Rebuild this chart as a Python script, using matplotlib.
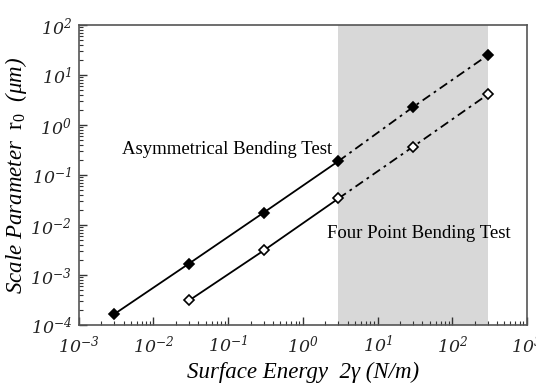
import numpy as np
import matplotlib
matplotlib.use("Agg")
import matplotlib.pyplot as plt
from matplotlib.ticker import LogLocator, NullFormatter, FuncFormatter

plt.rcParams['mathtext.fontset'] = 'custom'
plt.rcParams['mathtext.rm'] = 'DejaVu Serif:italic'
plt.rcParams['mathtext.it'] = 'DejaVu Serif:italic'
plt.rcParams['mathtext.cal'] = 'Liberation Serif'

# surface energy 2*gamma (N/m)
energy = [3e-3, 3e-2, 3e-1, 3, 30, 300]
# asymmetrical bending test (filled diamonds)
r0_asym = [1.66e-4, 1.7e-3, 1.78e-2, 0.19, 2.3, 25]
# four point bending test (open diamonds)
energy_fp = [3e-2, 3e-1, 3, 30, 300]
r0_four = [3.1e-4, 3.1e-3, 0.034, 0.37, 4.1]

shade_range = [3, 300]

fig = plt.figure(figsize=(5.36, 3.86), dpi=100)
ax = fig.add_axes([0.147, 0.158, 0.836, 0.777])

ax.axvspan(shade_range[0], shade_range[1], color='#d8d8d8', lw=0, zorder=0)

# solid up to 3 N/m, dash-dot beyond
def draw(x, y, mfc):
    x = np.array(x); y = np.array(y)
    lo = x <= 3
    hi = x >= 3
    ax.plot(x[lo], y[lo], '-', color='black', lw=1.3, zorder=2)
    ax.plot(x[hi], y[hi], color='black', lw=1.3, dashes=(5, 2.5, 1.5, 2.5), zorder=2)
    ax.plot(x, y, 'D', ls='none', ms=5.5, mfc=mfc, mec='black', mew=1.2, zorder=3)

draw(energy, r0_asym, 'black')
draw(energy_fp, r0_four, 'white')

ax.set_xscale('log')
ax.set_yscale('log')
ax.set_xlim(1e-3, 1e3)
ax.set_ylim(1e-4, 1e2)

fmt = FuncFormatter(lambda v, p: r'$10^{%d}$' % int(round(np.log10(v))))
ax.xaxis.set_major_formatter(fmt)
ax.yaxis.set_major_formatter(fmt)
ax.xaxis.set_minor_locator(LogLocator(subs=np.arange(2, 10), numticks=20))
ax.yaxis.set_minor_locator(LogLocator(subs=np.arange(2, 10), numticks=20))
ax.xaxis.set_minor_formatter(NullFormatter())
ax.yaxis.set_minor_formatter(NullFormatter())
ax.tick_params(which='both', direction='in', top=False, right=False,
               color='#333333', labelsize=12.5, labelcolor='#222222')
ax.tick_params(which='major', length=6, width=1)
ax.tick_params(axis='x', which='major', pad=7)
ax.tick_params(axis='y', which='major', pad=5)
ax.tick_params(which='minor', length=3, width=0.8)
for s in ax.spines.values():
    s.set_color('#555555')
    s.set_linewidth(1.2)

ax.set_xlabel(r'Surface Energy  2γ (N/m)', fontsize=16.5, family='Liberation Serif',
              fontstyle='italic', labelpad=4)
ax.set_ylabel(r'Scale Parameter  $\mathcal{r}_{\mathcal{0}}$  (μm)', fontsize=16.5,
              family='Liberation Serif', fontstyle='italic', labelpad=1)

ax.text(0.097, 0.32, 'Asymmetrical Bending Test', fontsize=13.5, family='Liberation Serif',
        ha='center', va='center')
ax.text(36, 0.0069, 'Four Point Bending Test', fontsize=13.5, family='Liberation Serif',
        ha='center', va='center')

fig.savefig('out.png', dpi=100)
